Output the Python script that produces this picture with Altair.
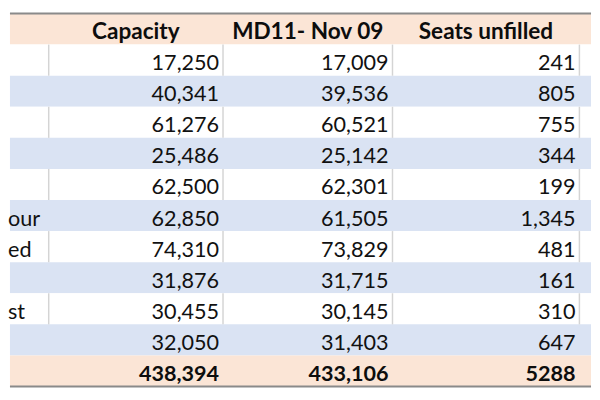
import altair as alt
import pandas as pd

row_labels = ["", "", "", "", "", "our", "ed", "", "st", ""]
capacity = [17250, 40341, 61276, 25486, 62500, 62850, 74310, 31876, 30455, 32050]
md11_nov09 = [17009, 39536, 60521, 25142, 62301, 61505, 73829, 31715, 30145, 31403]
seats_unfilled = [241, 805, 755, 344, 199, 1345, 481, 161, 310, 647]
headers = ["Capacity", "MD11- Nov 09", "Seats unfilled"]
totals = ["438,394", "433,106", "5288"]

# ---- layout / style constants ----
COL_EDGES = [0, 40, 220, 395, 588, 600]
PEACH = "#fbe5d6"
BLUE = "#dae3f3"
WHITE = "#ffffff"
FONT = "Lato"
FS = 22
FS_HDR = 23
BASE = 0.82  # baseline position inside a row

n = len(capacity)
n_rows = n + 2

# row backgrounds
rows = []
for r in range(n_rows):
    if r == 0 or r == n_rows - 1:
        fill = PEACH
    elif r % 2 == 1:
        fill = WHITE
    else:
        fill = BLUE
    rows.append({"r": r, "r2": r + 1, "x0": COL_EDGES[0], "x1": COL_EDGES[-1], "fill": fill})
rows_df = pd.DataFrame(rows)

# vertical separators in white rows
seps = []
for r in range(1, n + 1):
    if r % 2 == 1:
        for e in COL_EDGES[1:5]:
            seps.append({"x": e, "r": r, "r2": r + 1})
seps_df = pd.DataFrame(seps)

# horizontal borders
borders_df = pd.DataFrame({"y": [0, n_rows], "x0": [COL_EDGES[0]] * 2, "x1": [COL_EDGES[-1]] * 2})

# header cells
hdr_df = pd.DataFrame({
    "text": headers,
    "x": [(COL_EDGES[i + 1] + COL_EDGES[i + 2]) / 2 for i in range(3)],
    "y": [BASE] * 3,
})

# body numbers
body = []
cols = [capacity, md11_nov09, seats_unfilled]
for ci, vals in enumerate(cols):
    for ri, v in enumerate(vals):
        body.append({"text": f"{v:,}", "x": COL_EDGES[ci + 2], "y": ri + 1 + BASE})
body_df = pd.DataFrame(body)

# totals
tot_df = pd.DataFrame({
    "text": totals,
    "x": [COL_EDGES[i + 2] for i in range(3)],
    "y": [n_rows - 1 + BASE] * 3,
})

# first column fragments
lab_df = pd.DataFrame({
    "text": row_labels,
    "x": [COL_EDGES[0]] * n,
    "y": [i + 1 + BASE for i in range(n)],
})

xs = alt.Scale(domain=[0, 600], nice=False, zero=False)
ys = alt.Scale(domain=[0, n_rows], nice=False, zero=False, reverse=True)

bg = alt.Chart(rows_df).mark_rect(strokeWidth=0).encode(
    x=alt.X("x0:Q", scale=xs, axis=None),
    x2="x1:Q",
    y=alt.Y("r:Q", scale=ys, axis=None),
    y2="r2:Q",
    color=alt.Color("fill:N", scale=None),
)

sep = alt.Chart(seps_df).mark_rule(color="#d4d4d4", strokeWidth=1.5).encode(
    x=alt.X("x:Q", scale=xs, axis=None),
    y=alt.Y("r:Q", scale=ys, axis=None),
    y2="r2:Q",
)

brd = alt.Chart(borders_df).mark_rule(color="#8a8a8a", strokeWidth=2).encode(
    x=alt.X("x0:Q", scale=xs, axis=None),
    x2="x1:Q",
    y=alt.Y("y:Q", scale=ys, axis=None),
)

hdr = alt.Chart(hdr_df).mark_text(
    font=FONT, fontSize=FS_HDR, fontWeight="bold", align="center", baseline="alphabetic", color="#0d0d0d"
).encode(
    x=alt.X("x:Q", scale=xs, axis=None),
    y=alt.Y("y:Q", scale=ys, axis=None),
    text="text:N",
)

bod = alt.Chart(body_df).mark_text(
    font=FONT, fontSize=FS, align="right", baseline="alphabetic", dx=-4, color="#111111"
).encode(
    x=alt.X("x:Q", scale=xs, axis=None),
    y=alt.Y("y:Q", scale=ys, axis=None),
    text="text:N",
)

tot = alt.Chart(tot_df).mark_text(
    font=FONT, fontSize=FS, fontWeight="bold", align="right", baseline="alphabetic", dx=-4, color="#0d0d0d"
).encode(
    x=alt.X("x:Q", scale=xs, axis=None),
    y=alt.Y("y:Q", scale=ys, axis=None),
    text="text:N",
)

lab = alt.Chart(lab_df).mark_text(
    font=FONT, fontSize=FS, align="left", baseline="alphabetic", dx=-2, color="#111111"
).encode(
    x=alt.X("x:Q", scale=xs, axis=None),
    y=alt.Y("y:Q", scale=ys, axis=None),
    text="text:N",
)

chart = alt.layer(bg, sep, brd, hdr, bod, tot, lab).properties(
    width=592, height=380,
    padding={"left": 0, "right": 0, "top": 1, "bottom": 3},
).configure_view(stroke=None)

chart.save("out.html", embed_options={"renderer": "svg", "actions": False})
